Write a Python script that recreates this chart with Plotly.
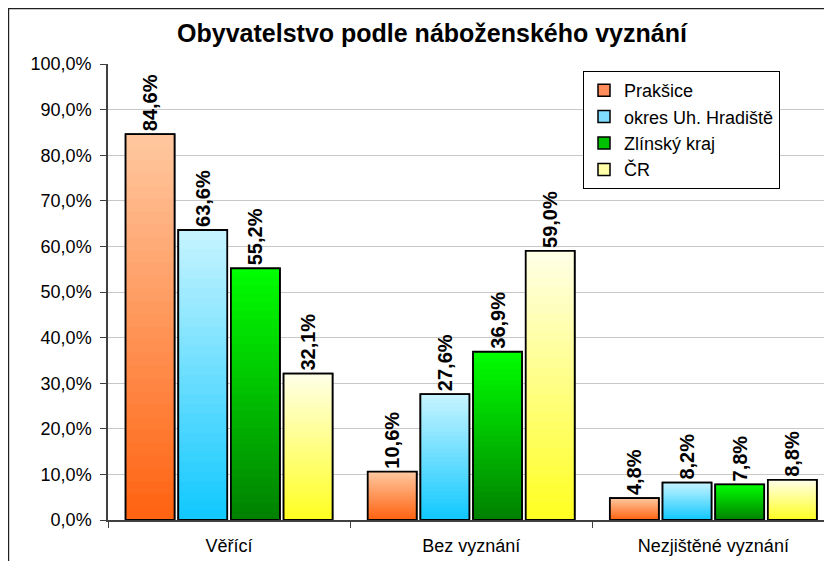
import plotly.graph_objects as go

categories = ["Věřící", "Bez vyznání", "Nezjištěné vyznání"]
series_names = ["Prakšice", "okres Uh. Hradiště", "Zlínský kraj", "ČR"]
val_praksice = [84.6, 10.6, 4.8]
val_okres = [63.6, 27.6, 8.2]
val_zlin = [55.2, 36.9, 7.8]
val_cr = [32.1, 59.0, 8.8]
series_values = [val_praksice, val_okres, val_zlin, val_cr]
y_ticks = [0, 10, 20, 30, 40, 50, 60, 70, 80, 90, 100]
y_tick_labels = ["0,0%", "10,0%", "20,0%", "30,0%", "40,0%", "50,0%",
                 "60,0%", "70,0%", "80,0%", "90,0%", "100,0%"]

# gradient colours: (bottom dark, top light), legend colour
grad = [
    ((255, 98, 16), (255, 200, 160), "#FF8C5A"),
    ((16, 200, 255), (200, 244, 255), "#7FDCFF"),
    ((0, 128, 0), (0, 255, 0), "#00C000"),
    ((255, 255, 32), (255, 255, 232), "#FFFFA8"),
]
N = 30

def mix(a, b, t):
    return "rgb(%d,%d,%d)" % tuple(round(a[k] + (b[k] - a[k]) * t) for k in range(3))

fig = go.Figure()
for s, (name, vals) in enumerate(zip(series_names, series_values)):
    dark, light, legc = grad[s]
    og = str(s)
    fig.add_trace(go.Bar(x=categories, y=vals, name=name, offsetgroup=og,
                         marker=dict(color=legc, line=dict(color="black", width=1.5)),
                         hoverinfo="skip"))
    for i in range(N):
        bases = [v * i / N for v in vals]
        heights = [v - b for v, b in zip(vals, bases)]
        fig.add_trace(go.Bar(x=categories, y=heights, base=bases, offsetgroup=og,
                             marker=dict(color=mix(dark, light, (i + 0.5) / N), line=dict(width=0)),
                             showlegend=False, hoverinfo="skip"))
    fig.add_trace(go.Bar(x=categories, y=vals, offsetgroup=og, showlegend=False,
                         marker=dict(color="rgba(0,0,0,0)", line=dict(color="black", width=1.8)),
                         text=[("%.1f%%" % v).replace(".", ",") for v in vals],
                         textposition="outside", textangle=-90, cliponaxis=False,
                         constraintext="none",
                         textfont=dict(family="Liberation Sans, Arial", size=20, color="black", weight="bold")))

FW, FH = 824, 553
L, T = 100, 56
W = FW - L
H = 512 - T
fig.add_shape(type="rect", xref="paper", yref="paper",
              x0=-(L - 0.6) / W, x1=1.05, y0=-0.3, y1=(512 - 0.6) / H,
              line=dict(color="#202020", width=1.2), fillcolor="rgba(0,0,0,0)", layer="below")

fig.update_layout(
    width=FW, height=FH,
    margin=dict(l=L, r=0, t=T, b=FH - 512),
    paper_bgcolor="white", plot_bgcolor="white",
    barmode="group", bargap=0.13, bargroupgap=0.07,
    font=dict(family="Liberation Sans, Arial", size=17, color="black"),
    title=dict(text="Obyvatelstvo podle náboženského vyznání", x=(432 - 8) / FW, xanchor="center",
               y=1 - 25 / FH, yanchor="middle",
               font=dict(size=25, weight="bold", color="black")),
    xaxis=dict(range=[-0.5, 2.49], showline=True, linecolor="#404040", linewidth=1.5,
               ticks="outside", tickson="boundaries", ticklen=6, tickcolor="#404040",
               ticklabelstandoff=9,
               showgrid=False, tickfont=dict(size=18)),
    yaxis=dict(range=[0, 100], tickvals=y_ticks, ticktext=y_tick_labels,
               showline=True, linecolor="#404040", linewidth=1.5,
               ticks="outside", ticklen=6, tickcolor="#404040",
               ticklabelstandoff=5,
               showgrid=True, gridcolor="#C8C8C8", gridwidth=1, zeroline=False,
               tickfont=dict(size=18)),
    legend=dict(x=(575 - L) / W, y=(512 - 63) / H, xanchor="left", yanchor="top",
                bordercolor="black", borderwidth=1, bgcolor="white",
                font=dict(size=18), tracegroupgap=0, itemwidth=30),
    showlegend=True,
)

fig.write_html("out.html")
